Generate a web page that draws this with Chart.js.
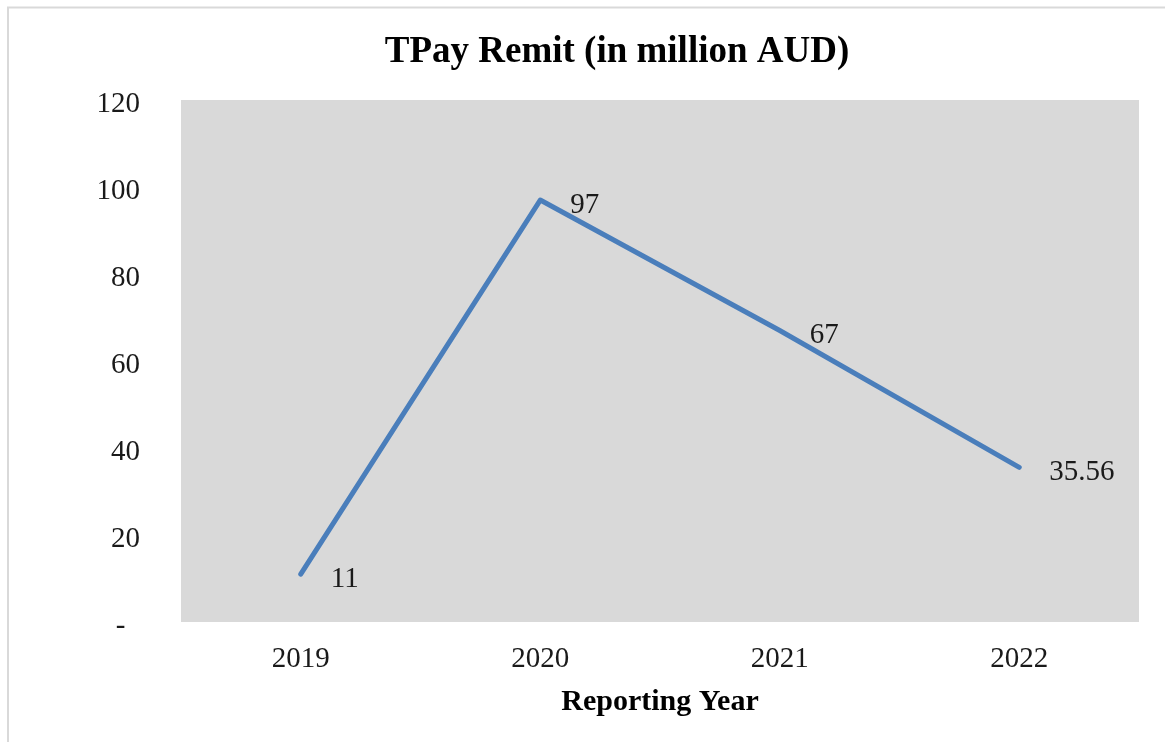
<!DOCTYPE html>
<html>
<head>
<meta charset="utf-8">
<title>TPay Remit</title>
<script src="https://cdn.jsdelivr.net/npm/chart.js@4/dist/chart.umd.min.js"></script>
<style>
  html, body { margin: 0; padding: 0; background: #ffffff; }
  canvas { display: block; }
</style>
</head>
<body>
<canvas id="chart" width="1165" height="742"></canvas>
<script>
// Remittance volume by reporting year (million AUD)
const years = ['2019', '2020', '2021', '2022'];
const remit = [11, 97, 67, 35.56];

// Value axis ticks; zero is shown as a dash
const yTickValues = [0, 20, 40, 60, 80, 100, 120];
const yTickLabels = ['-  ', '20', '40', '60', '80', '100', '120'];

const SERIF = '"Liberation Serif", "Times New Roman", serif';

// Grey plot background and the thin frame around the chart
const frameAndBackground = {
  id: 'frameAndBackground',
  beforeDraw(chart) {
    const { ctx, chartArea: a } = chart;
    ctx.save();
    ctx.fillStyle = '#d9d9d9';
    ctx.fillRect(a.left, a.top, a.right - a.left, a.bottom - a.top);
    ctx.strokeStyle = '#d9d9d9';
    ctx.lineWidth = 2;
    ctx.beginPath();
    ctx.moveTo(8, 742);
    ctx.lineTo(8, 7.5);
    ctx.lineTo(1165, 7.5);
    ctx.stroke();
    ctx.restore();
  }
};

// Value labels placed to the right of each point
const valueLabels = {
  id: 'valueLabels',
  afterDatasetsDraw(chart) {
    const { ctx } = chart;
    const meta = chart.getDatasetMeta(0);
    const data = chart.data.datasets[0].data;
    ctx.save();
    ctx.font = '29px ' + SERIF;
    ctx.fillStyle = '#1a1a1a';
    ctx.textAlign = 'left';
    ctx.textBaseline = 'middle';
    meta.data.forEach((pt, i) => {
      ctx.fillText(String(data[i]), pt.x + 30, pt.y + 5);
    });
    ctx.restore();
  }
};

new Chart(document.getElementById('chart'), {
  type: 'line',
  data: {
    labels: years,
    datasets: [{
      data: remit,
      borderColor: '#4a7ebb',
      borderWidth: 5,
      borderJoinStyle: 'round',
      borderCapStyle: 'round',
      pointRadius: 0,
      pointHoverRadius: 0,
      tension: 0,
      fill: false
    }]
  },
  options: {
    responsive: false,
    devicePixelRatio: 1,
    animation: false,
    events: [],
    layout: { padding: { left: 95, right: 26, top: 0, bottom: 0 } },
    plugins: {
      legend: { display: false },
      tooltip: { enabled: false },
      title: {
        display: true,
        text: 'TPay Remit (in million AUD)',
        color: '#000000',
        font: { family: SERIF, size: 37, weight: 'bold', lineHeight: 1.2 },
        padding: { top: 30, bottom: 25.6 }
      }
    },
    scales: {
      x: {
        type: 'category',
        offset: true,
        grid: { display: false, drawTicks: false, tickLength: 0 },
        border: { display: false },
        ticks: {
          color: '#1a1a1a',
          font: { family: SERIF, size: 29 },
          padding: 20,
          maxRotation: 0
        },
        title: {
          display: true,
          text: 'Reporting Year',
          color: '#000000',
          font: { family: SERIF, size: 30, weight: 'bold', lineHeight: 1.2 },
          padding: { top: 0, bottom: 22 }
        },
        afterFit(scale) { scale.height = 120; }
      },
      y: {
        min: 0,
        max: 120,
        grid: { display: false, drawTicks: false, tickLength: 0 },
        border: { display: false },
        afterBuildTicks(scale) {
          scale.ticks = yTickValues.map(v => ({ value: v }));
        },
        ticks: {
          color: '#1a1a1a',
          font: { family: SERIF, size: 29 },
          padding: 41,
          labelOffset: 4,
          callback(value) {
            const i = yTickValues.indexOf(value);
            return i >= 0 ? yTickLabels[i] : '';
          }
        },
        afterFit(scale) { scale.width = 86; }
      }
    }
  },
  plugins: [frameAndBackground, valueLabels]
});
</script>
</body>
</html>
